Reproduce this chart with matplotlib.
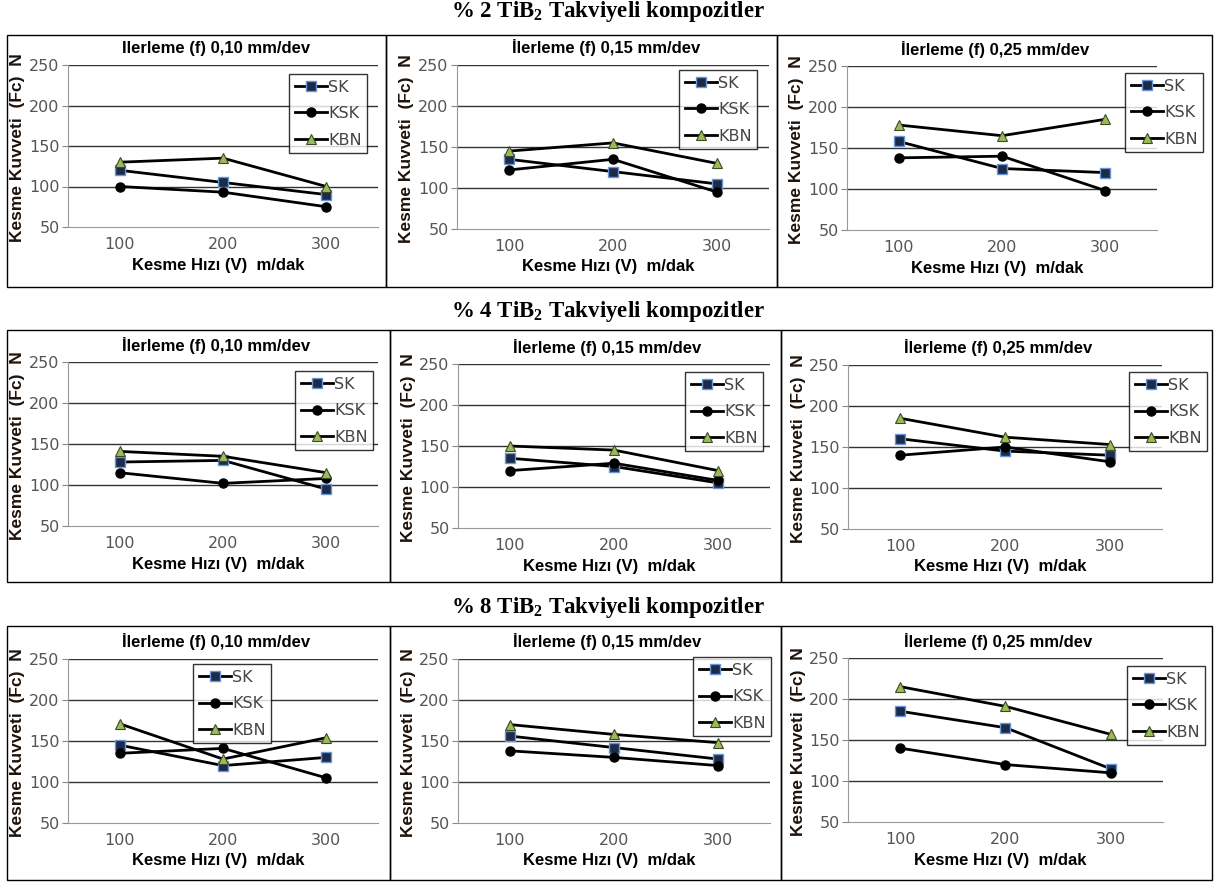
import matplotlib
matplotlib.use("Agg")
import matplotlib.pyplot as plt
from matplotlib.patches import Rectangle

plt.rcParams['mathtext.fontset'] = 'custom'
plt.rcParams['mathtext.bf'] = 'Liberation Serif:bold'
plt.rcParams['mathtext.rm'] = 'Liberation Serif:bold'

W, H = 1216, 882

# veriler
hizlar = ['100', '200', '300']
ilerlemeler = ['0,10', '0,15', '0,25']
oranlar = ['2', '4', '8']
seriler = ['SK', 'KSK', 'KBN']

# % 2 TiB2
sk_2 = [[120, 105, 90], [135, 120, 105], [158, 125, 120]]
ksk_2 = [[100, 93, 75], [122, 135, 95], [138, 140, 98]]
kbn_2 = [[130, 135, 100], [145, 155, 130], [178, 165, 185]]
# % 4 TiB2
sk_4 = [[128, 130, 95], [135, 125, 105], [160, 145, 140]]
ksk_4 = [[115, 102, 108], [120, 129, 108], [140, 150, 132]]
kbn_4 = [[141, 135, 115], [150, 145, 120], [185, 162, 153]]
# % 8 TiB2
sk_8 = [[145, 120, 130], [156, 142, 128], [185, 165, 115]]
ksk_8 = [[135, 141, 105], [138, 130, 120], [140, 120, 110]]
kbn_8 = [[171, 128, 154], [170, 158, 148], [215, 191, 157]]

veri = {'2': (sk_2, ksk_2, kbn_2), '4': (sk_4, ksk_4, kbn_4), '8': (sk_8, ksk_8, kbn_8)}

# yerlesim (piksel): eksen kutulari (sol, ust, sag, alt)
eksen_kutulari = [
    [(68, 65, 378, 227), (457, 65, 769, 229), (847, 66, 1157, 230)],
    [(68, 362, 378, 526), (458, 364, 770, 528), (848, 365, 1162, 529)],
    [(68, 659, 378, 823), (458, 659, 770, 823), (848, 658, 1163, 822)],
]
lejant_yerleri = [
    [(289, 74), (679, 70), (1125, 73)],
    [(295, 371), (685, 372), (1129, 372)],
    [(193, 664), (693, 657), (1127, 666)],
]
satir_baslik_y = [12, 312, 607]
panel_ust = [35, 330, 626]
panel_alt = [287, 582, 880]
ayiricilar = [[7, 386, 777, 1212], [7, 390, 781, 1212], [7, 390, 781, 1212]]

stiller = {
    'SK': dict(marker='s', mfc='#1c2b4c', mec='#6a96d4', ms=6.5, mew=1.0),
    'KSK': dict(marker='o', mfc='black', mec='black', ms=6.5),
    'KBN': dict(marker='^', mfc='#9bbb59', mec='#3d4a22', ms=7.5, mew=0.8),
}

fig = plt.figure(figsize=(W / 100, H / 100), dpi=100)


def fx(x):
    return x / W


def fy(y):
    return 1 - y / H


for r, oran in enumerate(oranlar):
    fig.text(0.5, fy(satir_baslik_y[r]), f'% {oran} TiB$_\\mathbf{{2}}$ Takviyeli kompozitler',
             ha='center', va='center', fontsize=16.5, fontweight='bold',
             family='Liberation Serif')
    sep = ayiricilar[r]
    for c in range(3):
        x0, x1 = sep[c], sep[c + 1]
        fig.patches.append(Rectangle((fx(x0), fy(panel_alt[r])), fx(x1) - fx(x0),
                                     fy(panel_ust[r]) - fy(panel_alt[r]),
                                     transform=fig.transFigure, fill=False,
                                     edgecolor='black', lw=1.0))

    for c, ilr in enumerate(ilerlemeler):
        l, t, rr, b = eksen_kutulari[r][c]
        ax = fig.add_axes([fx(l), fy(b), fx(rr) - fx(l), fy(t) - fy(b)])
        sk, ksk, kbn = veri[oran]
        for ad, vals in zip(seriler, (sk[c], ksk[c], kbn[c])):
            ax.plot(range(len(hizlar)), vals, '-', color='black', lw=2, label=ad,
                    **stiller[ad])
        ax.set_xlim(-0.5, 2.5)
        ax.set_ylim(50, 250)
        ax.set_yticks([50, 100, 150, 200, 250])
        ax.set_xticks(range(len(hizlar)))
        ax.set_xticklabels(hizlar)
        ax.tick_params(axis='y', length=4, color='#888888', labelsize=11.5,
                       labelcolor='#555555', pad=2)
        ax.tick_params(axis='x', length=0, labelsize=11.5, labelcolor='#555555', pad=7)
        for v in [100, 150, 200, 250]:
            ax.axhline(v, color='#333333', lw=1.0, zorder=0)
        for s in ['top', 'right']:
            ax.spines[s].set_visible(False)
        ax.spines['left'].set_color('#999999')
        ax.spines['bottom'].set_color('#999999')
        ax.patch.set_alpha(0)

        baslik = ('Ilerleme' if (r == 0 and c == 0) else 'İlerleme') + f' (f) {ilr} mm/dev'
        cx = (l + rr) / 2 - 7
        fig.text(fx(cx), fy(t - 17), baslik, ha='center', va='center',
                 fontsize=12, fontweight='bold', family='Liberation Sans')
        fig.text(fx(cx + 2), fy(b + 38), 'Kesme Hızı (V)  m/dak', ha='center', va='center',
                 fontsize=12, fontweight='bold', family='Liberation Sans')
        fig.text(fx(l - 50), fy((t + b) / 2 + 2), 'Kesme Kuvveti  (Fc)  N', ha='center',
                 va='center', rotation=90, fontsize=12.5, fontweight='bold',
                 family='Liberation Sans', color='#1e120a')

        lx, ly = lejant_yerleri[r][c]
        leg = ax.legend(loc='upper left', bbox_to_anchor=(fx(lx), fy(ly)),
                        bbox_transform=fig.transFigure, frameon=True, fancybox=False,
                        fontsize=11.5, handlelength=2.0, handletextpad=0.1,
                        labelspacing=0.72, borderpad=0.35, borderaxespad=0)
        leg.get_frame().set_edgecolor('black')
        leg.get_frame().set_linewidth(1.0)
        for tx in leg.get_texts():
            tx.set_color('#444444')

fig.savefig('out.png', dpi=100)
